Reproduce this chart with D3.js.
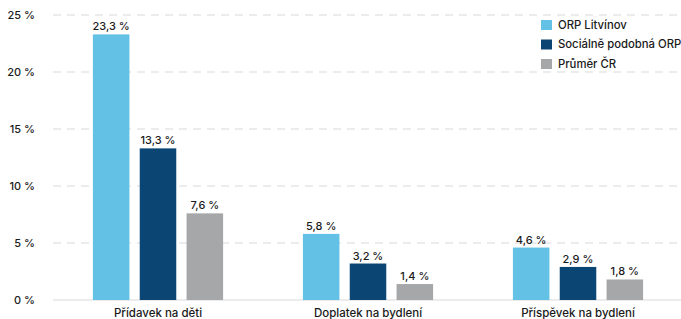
<!DOCTYPE html>
<html lang="cs">
<head>
  <meta charset="UTF-8">
  <title>Dávky</title>
  <script src="https://d3js.org/d3.v7.min.js"></script>
  <style>
    body { margin: 0; background: #fff; font-family: Inter, "Open Sans", Arial, sans-serif; }
    svg { display: block; }
  </style>
</head>
<body>
  <svg width="681" height="319"></svg>
  <script>
    const categories = ["Přídavek na děti", "Doplatek na bydlení", "Příspěvek na bydlení"];
    const seriesNames = ["ORP Litvínov", "Sociálně podobná ORP", "Průměr ČR"];
    const litvinov = [23.3, 5.8, 4.6];
    const podobna = [13.3, 3.2, 2.9];
    const prumer = [7.6, 1.4, 1.8];
    const yTicks = [0, 5, 10, 15, 20, 25];
    const colors = ["#63c1e5", "#0b4574", "#a6a7a9"];

    const seriesValues = [litvinov, podobna, prumer];
    const data = categories.map((c, i) => ({
      cat: c,
      vals: seriesNames.map((s, j) => ({ key: s, value: seriesValues[j][i], color: colors[j] }))
    }));

    const fmt = v => d3.format(".1f")(v).replace(".", ",") + " %";

    const svg = d3.select("svg");
    const plot = { left: 53, right: 683, top: 15, bottom: 300 };

    const x0 = d3.scaleBand().domain(categories).range([plot.left, plot.right])
      .paddingInner(0.38).paddingOuter(0.19);
    const x1 = d3.scaleBand().domain(seriesNames).range([0, x0.bandwidth()])
      .paddingInner(0.22).paddingOuter(0);
    const y = d3.scaleLinear().domain([0, 25]).range([plot.bottom, plot.top]);

    // gridlines
    svg.append("g")
      .selectAll("line")
      .data(yTicks.filter(t => t > 0))
      .join("line")
      .attr("x1", plot.left).attr("x2", 681)
      .attr("y1", d => y(d)).attr("y2", d => y(d))
      .attr("stroke", "#d9d9d9")
      .attr("stroke-dasharray", "8,6");

    // baseline
    svg.append("line")
      .attr("x1", plot.left).attr("x2", 681)
      .attr("y1", y(0)).attr("y2", y(0))
      .attr("stroke", "#d9d9d9");

    // y axis labels
    svg.append("g")
      .selectAll("text")
      .data(yTicks)
      .join("text")
      .attr("x", 35).attr("y", d => y(d))
      .attr("dy", "0.35em")
      .attr("text-anchor", "end")
      .attr("font-size", 11)
      .attr("font-weight", 500)
      .attr("fill", "#1a1a1a")
      .text(d => d + " %");

    const groups = svg.append("g")
      .selectAll("g")
      .data(data)
      .join("g")
      .attr("transform", d => `translate(${x0(d.cat)},0)`);

    groups.selectAll("rect")
      .data(d => d.vals)
      .join("rect")
      .attr("x", d => x1(d.key))
      .attr("width", x1.bandwidth())
      .attr("y", d => y(d.value))
      .attr("height", d => y(0) - y(d.value))
      .attr("fill", d => d.color);

    groups.selectAll("text")
      .data(d => d.vals)
      .join("text")
      .attr("x", d => x1(d.key) + x1.bandwidth() / 2)
      .attr("y", d => y(d.value) - 4)
      .attr("text-anchor", "middle")
      .attr("font-size", 11)
      .attr("font-weight", 500)
      .attr("fill", "#1a1a1a")
      .text(d => fmt(d.value));

    // category labels
    svg.append("g")
      .selectAll("text")
      .data(categories)
      .join("text")
      .attr("x", d => x0(d) + x0.bandwidth() / 2)
      .attr("y", 313)
      .attr("dy", "0.35em")
      .attr("text-anchor", "middle")
      .attr("font-size", 11.5)
      .attr("font-weight", 500)
      .attr("fill", "#1a1a1a")
      .text(d => d);

    // legend
    const legend = svg.append("g").attr("transform", "translate(541,20)");
    legend.append("rect").attr("x", -6).attr("y", -3).attr("width", 140).attr("height", 54).attr("fill", "#fff");
    const li = legend.selectAll("g.item")
      .data(seriesNames)
      .join("g")
      .attr("class", "item")
      .attr("transform", (d, i) => `translate(0,${i * 19.5})`);
    li.append("rect").attr("width", 11).attr("height", 10).attr("fill", (d, i) => colors[i]);
    li.append("text")
      .attr("x", 17).attr("y", 5).attr("dy", "0.35em")
      .attr("font-size", 11.3)
      .attr("font-weight", 500)
      .attr("fill", "#1a1a1a")
      .text(d => d);
  </script>
</body>
</html>
